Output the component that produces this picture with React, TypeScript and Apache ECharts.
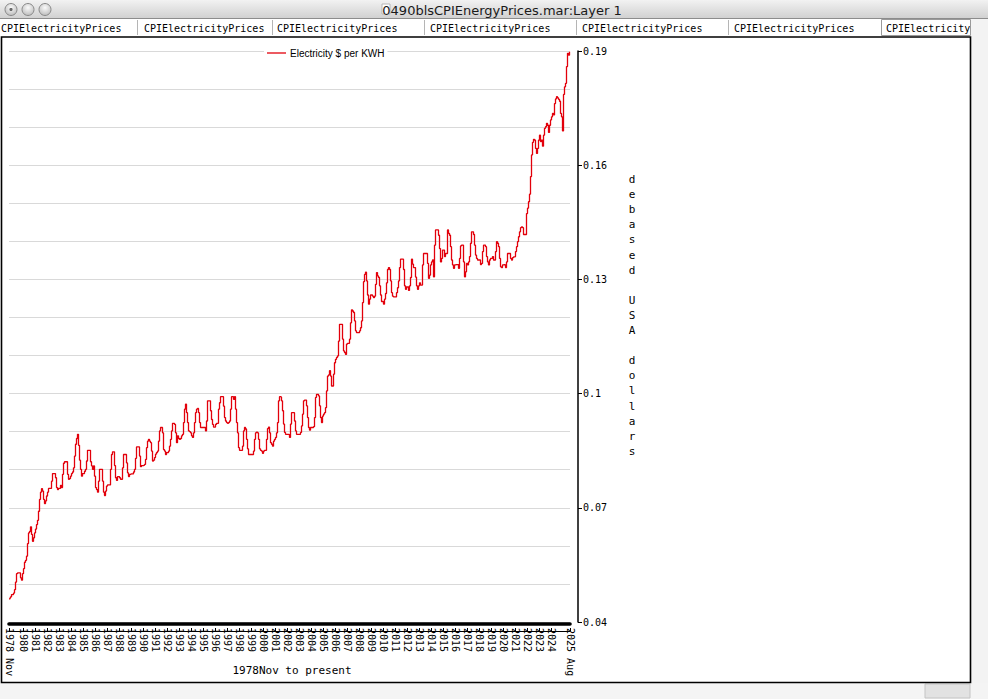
import React, { useEffect, useRef } from 'react';
import * as echarts from 'echarts';

// Average price of electricity, US city average, $ per KWH, monthly, 1978 Nov - 2025 Aug
const p1978 = [0.0461, 0.0461];
const p1979 = [0.0466, 0.0472, 0.0472, 0.0476, 0.0485, 0.0505, 0.0527, 0.0529, 0.0529, 0.0529, 0.0516, 0.0510];
const p1980 = [0.0527, 0.0540, 0.0557, 0.0562, 0.0573, 0.0606, 0.0634, 0.0638, 0.0650, 0.0630, 0.0612, 0.0621];
const p1981 = [0.0634, 0.0644, 0.0656, 0.0667, 0.0691, 0.0722, 0.0741, 0.0750, 0.0744, 0.0722, 0.0711, 0.0718];
const p1982 = [0.0731, 0.0741, 0.0751, 0.0751, 0.0751, 0.0770, 0.0790, 0.0790, 0.0790, 0.0779, 0.0753, 0.0748];
const p1983 = [0.0751, 0.0751, 0.0759, 0.0753, 0.0788, 0.0817, 0.0821, 0.0821, 0.0821, 0.0788, 0.0775, 0.0777];
const p1984 = [0.0783, 0.0790, 0.0794, 0.0805, 0.0836, 0.0867, 0.0882, 0.0893, 0.0864, 0.0825, 0.0801, 0.0783];
const p1985 = [0.0790, 0.0790, 0.0796, 0.0801, 0.0823, 0.0851, 0.0851, 0.0851, 0.0821, 0.0810, 0.0801, 0.0810];
const p1986 = [0.0783, 0.0753, 0.0748, 0.0741, 0.0770, 0.0801, 0.0801, 0.0801, 0.0770, 0.0741, 0.0732, 0.0744];
const p1987 = [0.0757, 0.0760, 0.0760, 0.0760, 0.0801, 0.0840, 0.0847, 0.0847, 0.0811, 0.0779, 0.0772, 0.0782];
const p1988 = [0.0782, 0.0779, 0.0775, 0.0775, 0.0805, 0.0840, 0.0840, 0.0840, 0.0818, 0.0792, 0.0782, 0.0788];
const p1989 = [0.0789, 0.0789, 0.0789, 0.0794, 0.0801, 0.0830, 0.0860, 0.0860, 0.0860, 0.0836, 0.0808, 0.0811];
const p1990 = [0.0811, 0.0812, 0.0814, 0.0827, 0.0858, 0.0875, 0.0880, 0.0875, 0.0871, 0.0849, 0.0823, 0.0825];
const p1991 = [0.0832, 0.0841, 0.0845, 0.0849, 0.0875, 0.0902, 0.0911, 0.0911, 0.0897, 0.0853, 0.0849, 0.0840];
const p1992 = [0.0845, 0.0845, 0.0849, 0.0862, 0.0880, 0.0902, 0.0922, 0.0922, 0.0919, 0.0897, 0.0871, 0.0889];
const p1993 = [0.0882, 0.0880, 0.0882, 0.0889, 0.0893, 0.0924, 0.0959, 0.0972, 0.0950, 0.0924, 0.0902, 0.0900];
const p1994 = [0.0897, 0.0889, 0.0885, 0.0897, 0.0924, 0.0950, 0.0959, 0.0961, 0.0950, 0.0924, 0.0911, 0.0911];
const p1995 = [0.0911, 0.0911, 0.0911, 0.0902, 0.0928, 0.0981, 0.0981, 0.0981, 0.0955, 0.0932, 0.0919, 0.0912];
const p1996 = [0.0912, 0.0919, 0.0922, 0.0922, 0.0959, 0.0976, 0.0992, 0.0992, 0.0992, 0.0967, 0.0937, 0.0928];
const p1997 = [0.0924, 0.0922, 0.0924, 0.0928, 0.0959, 0.0992, 0.0992, 0.0985, 0.0992, 0.0959, 0.0924, 0.0897];
const p1998 = [0.0858, 0.0851, 0.0851, 0.0851, 0.0862, 0.0902, 0.0911, 0.0907, 0.0880, 0.0855, 0.0840, 0.0840];
const p1999 = [0.0840, 0.0840, 0.0840, 0.0849, 0.0880, 0.0897, 0.0899, 0.0897, 0.0880, 0.0855, 0.0851, 0.0849];
const p2000 = [0.0843, 0.0849, 0.0851, 0.0851, 0.0880, 0.0908, 0.0912, 0.0897, 0.0871, 0.0867, 0.0862, 0.0875];
const p2001 = [0.0880, 0.0885, 0.0897, 0.0924, 0.0981, 0.0992, 0.0991, 0.0981, 0.0955, 0.0920, 0.0898, 0.0893];
const p2002 = [0.0893, 0.0893, 0.0892, 0.0885, 0.0920, 0.0950, 0.0950, 0.0950, 0.0928, 0.0902, 0.0893, 0.0893];
const p2003 = [0.0893, 0.0893, 0.0898, 0.0915, 0.0946, 0.0981, 0.0983, 0.0983, 0.0968, 0.0937, 0.0911, 0.0904];
const p2004 = [0.0911, 0.0911, 0.0911, 0.0913, 0.0937, 0.0990, 0.0998, 0.0998, 0.0994, 0.0968, 0.0937, 0.0924];
const p2005 = [0.0941, 0.0946, 0.0950, 0.0963, 0.1007, 0.1046, 0.1049, 0.1060, 0.1046, 0.1020, 0.1020, 0.1051];
const p2006 = [0.1081, 0.1090, 0.1095, 0.1099, 0.1138, 0.1182, 0.1182, 0.1182, 0.1143, 0.1112, 0.1108, 0.1103];
const p2007 = [0.1130, 0.1132, 0.1132, 0.1143, 0.1186, 0.1220, 0.1217, 0.1213, 0.1191, 0.1165, 0.1160, 0.1160];
const p2008 = [0.1160, 0.1165, 0.1173, 0.1191, 0.1239, 0.1294, 0.1313, 0.1319, 0.1296, 0.1259, 0.1235, 0.1248];
const p2009 = [0.1259, 0.1259, 0.1256, 0.1252, 0.1256, 0.1287, 0.1318, 0.1309, 0.1305, 0.1283, 0.1259, 0.1242];
const p2010 = [0.1242, 0.1235, 0.1248, 0.1263, 0.1291, 0.1326, 0.1331, 0.1326, 0.1296, 0.1265, 0.1256, 0.1254];
const p2011 = [0.1254, 0.1254, 0.1265, 0.1278, 0.1296, 0.1331, 0.1353, 0.1353, 0.1353, 0.1326, 0.1283, 0.1274];
const p2012 = [0.1280, 0.1280, 0.1271, 0.1283, 0.1305, 0.1353, 0.1340, 0.1331, 0.1331, 0.1306, 0.1283, 0.1274];
const p2013 = [0.1283, 0.1291, 0.1285, 0.1285, 0.1338, 0.1368, 0.1368, 0.1368, 0.1368, 0.1342, 0.1303, 0.1311];
const p2014 = [0.1338, 0.1346, 0.1351, 0.1307, 0.1390, 0.1430, 0.1430, 0.1430, 0.1416, 0.1381, 0.1346, 0.1355];
const p2015 = [0.1377, 0.1377, 0.1360, 0.1368, 0.1368, 0.1430, 0.1421, 0.1416, 0.1386, 0.1351, 0.1338, 0.1329];
const p2016 = [0.1338, 0.1339, 0.1339, 0.1339, 0.1329, 0.1355, 0.1388, 0.1390, 0.1390, 0.1346, 0.1307, 0.1320];
const p2017 = [0.1342, 0.1338, 0.1346, 0.1360, 0.1395, 0.1425, 0.1425, 0.1418, 0.1390, 0.1364, 0.1355, 0.1351];
const p2018 = [0.1351, 0.1351, 0.1339, 0.1342, 0.1373, 0.1390, 0.1390, 0.1386, 0.1360, 0.1346, 0.1338, 0.1351];
const p2019 = [0.1355, 0.1355, 0.1360, 0.1351, 0.1351, 0.1373, 0.1399, 0.1395, 0.1386, 0.1355, 0.1333, 0.1331];
const p2020 = [0.1338, 0.1339, 0.1338, 0.1331, 0.1346, 0.1368, 0.1368, 0.1368, 0.1355, 0.1351, 0.1357, 0.1359];
const p2021 = [0.1360, 0.1373, 0.1386, 0.1399, 0.1412, 0.1425, 0.1436, 0.1438, 0.1436, 0.1418, 0.1418, 0.1418];
const p2022 = [0.1473, 0.1487, 0.1504, 0.1524, 0.1570, 0.1627, 0.1660, 0.1668, 0.1666, 0.1644, 0.1631, 0.1644];
const p2023 = [0.1666, 0.1679, 0.1662, 0.1666, 0.1650, 0.1679, 0.1697, 0.1701, 0.1710, 0.1705, 0.1686, 0.1705];
const p2024 = [0.1719, 0.1727, 0.1736, 0.1732, 0.1762, 0.1774, 0.1780, 0.1777, 0.1773, 0.1768, 0.1736, 0.1727];
const p2025 = [0.1690, 0.1786, 0.1806, 0.1815, 0.1859, 0.1894, 0.1889, 0.1898];

const yearlyPrices = [
  p1978, p1979, p1980, p1981, p1982, p1983, p1984, p1985, p1986, p1987, p1988, p1989,
  p1990, p1991, p1992, p1993, p1994, p1995, p1996, p1997, p1998, p1999, p2000, p2001,
  p2002, p2003, p2004, p2005, p2006, p2007, p2008, p2009, p2010, p2011, p2012, p2013,
  p2014, p2015, p2016, p2017, p2018, p2019, p2020, p2021, p2022, p2023, p2024, p2025,
];

const startYear = 1978;
const startMonth = 11;
const monthNames = ['Jan', 'Feb', 'Mar', 'Apr', 'May', 'Jun', 'Jul', 'Aug', 'Sep', 'Oct', 'Nov', 'Dec'];
const yTickLabels = [0.04, 0.07, 0.1, 0.13, 0.16, 0.19];
const seriesName = 'Electricity $ per KWH';
const windowTitle = '0490blsCPIEnergyPrices.mar:Layer 1';
const tabLabel = 'CPIElectricityPrices';
const tabPositions = [0, 143, 276, 429, 581, 733, 885];
const tabSeparators = [137, 272, 424, 576, 728, 881];
const axisTitle = 'debased USA dollars';
const xTitle = '1978Nov to present';

const prices: number[] = ([] as number[]).concat(...yearlyPrices);
const categories: string[] = prices.map((_, i) => {
  const m0 = startMonth - 1 + i;
  const y = startYear + Math.floor(m0 / 12);
  const m = (m0 % 12) + 1;
  return `${y}-${m < 10 ? '0' + m : m}`;
});
const lastIdx = categories.length - 1;
const catLabel = (c: string) => c.slice(0, 4) + ' ' + monthNames[parseInt(c.slice(5, 7), 10) - 1];
const showYear = (i: number, v: string) => i === 0 || i === lastIdx || v.endsWith('-01');

export default function App() {
  const ref = useRef<HTMLDivElement>(null);
  useEffect(() => {
    if (!ref.current) return;
    const chart = echarts.init(ref.current, undefined, { renderer: 'svg' });
    const mono = 'DejaVu Sans Mono';
    const graphics: any[] = [
      // title bar
      {
        type: 'rect', shape: { x: 0, y: 0, width: 988, height: 19 }, z: 0,
        style: {
          fill: new echarts.graphic.LinearGradient(0, 0, 0, 1, [
            { offset: 0, color: '#f2f2f2' }, { offset: 1, color: '#cfcfcf' },
          ]),
        },
      },
      { type: 'line', shape: { x1: 0, y1: 18.5, x2: 988, y2: 18.5 }, style: { stroke: '#8c8c8c', lineWidth: 1 } },
      ...[11, 28, 45].map((cx) => ({
        type: 'circle', shape: { cx, cy: 9.5, r: 6 },
        style: {
          fill: new echarts.graphic.RadialGradient(0.5, 0.35, 0.7, [
            { offset: 0, color: '#fafafa' }, { offset: 1, color: '#b8b8b8' },
          ]),
          stroke: '#8a8a8a', lineWidth: 1,
        },
      })),
      { type: 'circle', shape: { cx: 11, cy: 9.5, r: 1.6 }, style: { fill: '#6a6a6a' } },
      { type: 'rect', shape: { x: 382, y: 4, width: 8, height: 10 }, style: { fill: '#fff', stroke: '#aaa', lineWidth: 0.8 } },
      {
        type: 'text', x: 502, y: 10,
        style: { text: windowTitle, font: '13px "DejaVu Sans"', fill: '#1a1a1a', align: 'center', verticalAlign: 'middle' },
      },
      // tabs row
      { type: 'rect', shape: { x: 0, y: 19, width: 988, height: 17 }, style: { fill: '#ffffff' } },
      ...tabSeparators.map((x) => ({
        type: 'line', shape: { x1: x + 0.5, y1: 20, x2: x + 0.5, y2: 35 }, style: { stroke: '#b5b5b5', lineWidth: 1 },
      })),
      ...tabPositions.map((x) => ({
        type: 'text', x: x + 1, y: 28,
        style: {
          text: tabLabel, font: `10px "${mono}"`, fill: '#000', align: 'left', verticalAlign: 'middle',
          width: 988 - x - 4, overflow: 'truncate', ellipsis: '',
        },
      })),
      // right and bottom strips
      { type: 'rect', shape: { x: 971, y: 19, width: 17, height: 680 }, style: { fill: '#f3f3f3' } },
      { type: 'rect', shape: { x: 881.5, y: 19.5, width: 89, height: 16 }, style: { fill: 'none', stroke: '#9a9a9a', lineWidth: 1 } },
      { type: 'rect', shape: { x: 0, y: 683, width: 988, height: 16 }, style: { fill: '#f4f4f4' } },
      { type: 'rect', shape: { x: 925, y: 684, width: 45, height: 14 }, style: { fill: '#e2e2e2', stroke: '#c4c4c4', lineWidth: 1 } },
      // plot frame
      { type: 'rect', shape: { x: 1.5, y: 37, width: 969, height: 645.5 }, style: { fill: 'none', stroke: '#000', lineWidth: 1.6 } },
      // right axis title (stacked letters)
      {
        type: 'text', x: 632, y: 172,
        style: {
          text: axisTitle.split('').join('\n'), font: `11px "${mono}"`, fill: '#000',
          align: 'center', verticalAlign: 'top', lineHeight: 15.1,
        },
      },
      // x title
      {
        type: 'text', x: 292, y: 670,
        style: { text: xTitle, font: `11px "${mono}"`, fill: '#000', align: 'center', verticalAlign: 'middle' },
      },
    ];

    chart.setOption({
      animation: false,
      backgroundColor: '#ffffff',
      grid: { left: 9, right: 418, top: 51, bottom: 77, containLabel: false },
      legend: {
        data: [seriesName],
        left: 264, top: 46,
        icon: 'rect', itemWidth: 19, itemHeight: 1.3, itemGap: 4,
        backgroundColor: '#ffffff', padding: [2, 3, 2, 3],
        textStyle: { fontFamily: 'Liberation Sans', fontSize: 10, color: '#000', padding: [0, 0, 0, -1] },
      },
      xAxis: [
        {
          type: 'category', data: categories, boundaryGap: false, position: 'bottom', offset: 2,
          axisLine: { lineStyle: { color: '#000', width: 3.6 } },
          axisTick: { show: false }, axisLabel: { show: false }, splitLine: { show: false },
        },
        {
          type: 'category', data: categories, boundaryGap: false, position: 'bottom', offset: 9,
          axisLine: { lineStyle: { color: '#000', width: 1 } },
          axisTick: {
            show: true, inside: true, length: 3, lineStyle: { color: '#000' },
            interval: showYear,
          },
          axisLabel: {
            show: true, rotate: -90, margin: -3, hideOverlap: false,
            showMinLabel: true, showMaxLabel: true,
            fontFamily: mono, fontSize: 10, color: '#000',
            interval: showYear,
            formatter: (v: string, i: number) => (i === 0 || i === lastIdx ? catLabel(v) : v.slice(0, 4)),
          },
          splitLine: { show: false },
        },
      ],
      yAxis: [
        {
          type: 'value', min: 0.04, max: 0.19, interval: 0.01, position: 'left',
          axisLine: { show: false }, axisTick: { show: false }, axisLabel: { show: false },
          splitLine: { show: true, lineStyle: { color: '#d9d9d9', width: 1 } },
        },
        {
          type: 'value', min: 0.04, max: 0.19, interval: 0.01, position: 'right', offset: 8,
          axisLine: { show: true, lineStyle: { color: '#000', width: 1.5 } },
          axisTick: { show: true, length: 4, lineStyle: { color: '#000' }, customValues: yTickLabels },
          axisLabel: {
            show: true, margin: 5, fontFamily: mono, fontSize: 10, color: '#000',
            customValues: yTickLabels,
            formatter: (v: number) => {
              const hit = yTickLabels.find((t) => Math.abs(t - v) < 1e-6);
              return hit === undefined ? '' : String(hit);
            },
          },
          splitLine: { show: false },
        },
      ],
      series: [
        {
          name: seriesName, type: 'line', data: prices, xAxisIndex: 0, yAxisIndex: 0,
          symbol: 'none', showSymbol: false, step: 'middle',
          lineStyle: { color: '#e2000b', width: 1.3 }, itemStyle: { color: '#e2000b' },
        },
      ],
      graphic: graphics,
    });
    return () => chart.dispose();
  }, []);
  return <div ref={ref} style={{ position: 'absolute', left: 0, top: 0, width: 988, height: 699 }} />;
}
